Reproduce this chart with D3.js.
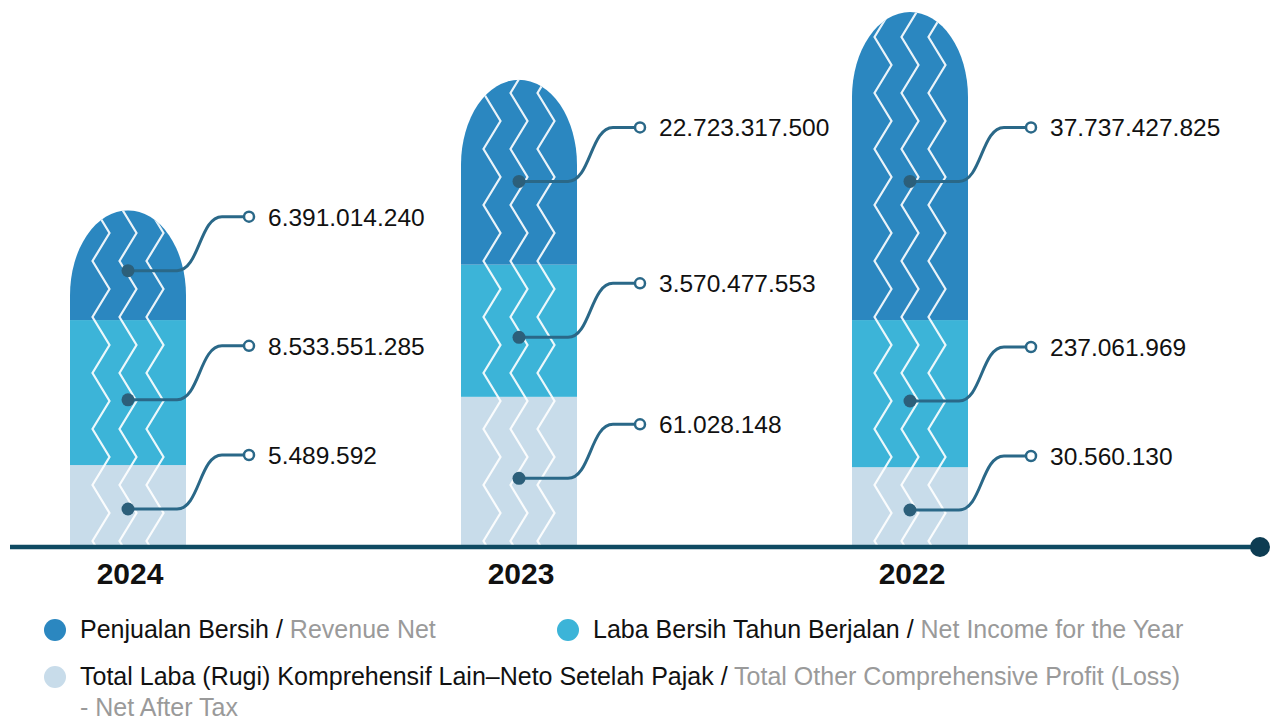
<!DOCTYPE html>
<meta charset="utf-8">
<script src="https://d3js.org/d3.v7.min.js"></script>
<style>
  body { margin: 0; background: #fff; }
  text { font-family: "Liberation Sans", Arial, sans-serif; }
</style>
<div id="chart"></div>
<script>
// data
var years = ["2024", "2023", "2022"];
var revenue = [6391014240, 22723317500, 37737427825];
var netIncome = [8533551285, 3570477553, 237061969];
var otherComp = [5489592, 61028148, 30560130];
// pictorial segment heights (arbitrary units, not to value scale)
var revenueUnits = [20.6, 34.7, 57.8];
var incomeUnits = [27.2, 24.8, 27.6];
var otherUnits = [15.0, 27.8, 14.6];

var seriesNames = [
  ["Penjualan Bersih / ", "Revenue Net"],
  ["Laba Bersih Tahun Berjalan / ", "Net Income for the Year"],
  ["Total Laba (Rugi) Komprehensif Lain\u2013Neto Setelah Pajak / ", "Total Other Comprehensive Profit (Loss)"]
];
var colors = ["#2b87c0", "#3cb4d8", "#c8dcea"];

var W = 1274, H = 722;
var svg = d3.select("#chart").append("svg")
  .attr("width", W).attr("height", H);

var idLocale = d3.formatLocale({decimal: ",", thousands: ".", grouping: [3], currency: ["Rp", ""]});
var fmt = idLocale.format(",d");

var baseY = 545;
var x = d3.scalePoint().domain(years).range([128, 910]);
var y = d3.scaleLinear().domain([0, 100]).range([baseY, 12]);
var barW = 116, rx = 58, ry = 85;

// build stacked rows: bottom to top = other, income, revenue
var rows = years.map(function(yr, i) {
  var segs = [
    {key: 2, units: otherUnits[i], value: otherComp[i]},
    {key: 1, units: incomeUnits[i], value: netIncome[i]},
    {key: 0, units: revenueUnits[i], value: revenue[i]}
  ];
  var acc = 0;
  segs.forEach(function(s) { s.y0 = acc; acc += s.units; s.y1 = acc; });
  return {year: yr, segs: segs, total: acc};
});

var defs = svg.append("defs");
rows.forEach(function(r, i) {
  var l = x(r.year) - barW / 2, rt = x(r.year) + barW / 2, top = y(r.total);
  defs.append("clipPath").attr("id", "clip" + i)
    .append("path")
    .attr("d", "M" + l + "," + baseY + "V" + (top + ry) +
      "A" + rx + "," + ry + " 0 0 1 " + rt + "," + (top + ry) + "V" + baseY + "Z");
});

var bars = svg.selectAll(".bar").data(rows).enter().append("g")
  .attr("class", "bar")
  .attr("clip-path", function(d, i) { return "url(#clip" + i + ")"; });

bars.selectAll("rect").data(function(d) { return d.segs.map(function(s) { return {s: s, year: d.year}; }); })
  .enter().append("rect")
  .attr("x", function(d) { return x(d.year) - barW / 2; })
  .attr("width", barW)
  .attr("y", function(d) { return y(d.s.y1); })
  .attr("height", function(d) { return y(d.s.y0) - y(d.s.y1); })
  .attr("fill", function(d) { return colors[d.s.key]; });

// white zigzags
var zig = d3.line();
bars.each(function(d) {
  var g = d3.select(this);
  [-27, 0, 27].forEach(function(off) {
    var cx = x(d.year) + off, pts = [];
    for (var k = 0; k * 28 + 9 <= baseY + 40; k++) {
      pts.push([cx + (k % 2 === 0 ? 8.5 : -8.5), k * 28 + 9]);
    }
    g.append("path").attr("d", zig(pts))
      .attr("fill", "none").attr("stroke", "#fff").attr("stroke-opacity", 0.9)
      .attr("stroke-width", 2.2).attr("stroke-linejoin", "miter");
  });
});

// connectors and value labels
var lineColor = "#2a6888";
rows.forEach(function(r) {
  var cx = x(r.year), right = cx + barW / 2;
  r.segs.forEach(function(s) {
    var dy = y(s.y1) + (y(s.y0) - y(s.y1)) * 0.55;
    var ly = dy - 54;
    var xa = right - 9, xb = right + 36, xm = (xa + xb) / 2, xc = right + 63;
    svg.append("path")
      .attr("d", "M" + cx + "," + dy + "H" + xa +
        "C" + xm + "," + dy + " " + xm + "," + ly + " " + xb + "," + ly + "H" + (xc - 5))
      .attr("fill", "none").attr("stroke", lineColor).attr("stroke-width", 3);
    svg.append("circle").attr("cx", cx).attr("cy", dy).attr("r", 6.5).attr("fill", "#2c5f7a");
    svg.append("circle").attr("cx", xc).attr("cy", ly).attr("r", 5)
      .attr("fill", "#fff").attr("stroke", lineColor).attr("stroke-width", 2.5);
    svg.append("text").attr("x", xc + 19).attr("y", ly + 9)
      .style("font-size", "24.5px").attr("fill", "#111")
      .text(fmt(s.value));
  });
});

// baseline axis
svg.append("line").attr("x1", 10).attr("x2", 1260).attr("y1", 547).attr("y2", 547)
  .attr("stroke", "#0f4a62").attr("stroke-width", 4.5);
svg.append("circle").attr("cx", 1260).attr("cy", 547).attr("r", 10).attr("fill", "#0d3c52");

svg.selectAll(".year").data(years).enter().append("text")
  .attr("class", "year")
  .attr("x", function(d) { return x(d) + 2; })
  .attr("y", 584)
  .attr("text-anchor", "middle")
  .style("font-size", "30px").style("font-weight", "bold").attr("fill", "#111")
  .text(function(d) { return d; });

// legend
var legendPos = [[55, 630], [568, 630], [55, 677]];
seriesNames.forEach(function(n, i) {
  var p = legendPos[i];
  svg.append("circle").attr("cx", p[0]).attr("cy", p[1]).attr("r", 11).attr("fill", colors[i]);
  var t = svg.append("text").attr("x", p[0] + 25).attr("y", p[1] + 8).style("font-size", "25px");
  t.append("tspan").attr("fill", "#111").text(n[0]);
  t.append("tspan").attr("fill", "#9a9a9a").text(n[1]);
});
svg.append("text").attr("x", 80).attr("y", 716).style("font-size", "25px")
  .attr("fill", "#9a9a9a").text("- Net After Tax");
</script>
